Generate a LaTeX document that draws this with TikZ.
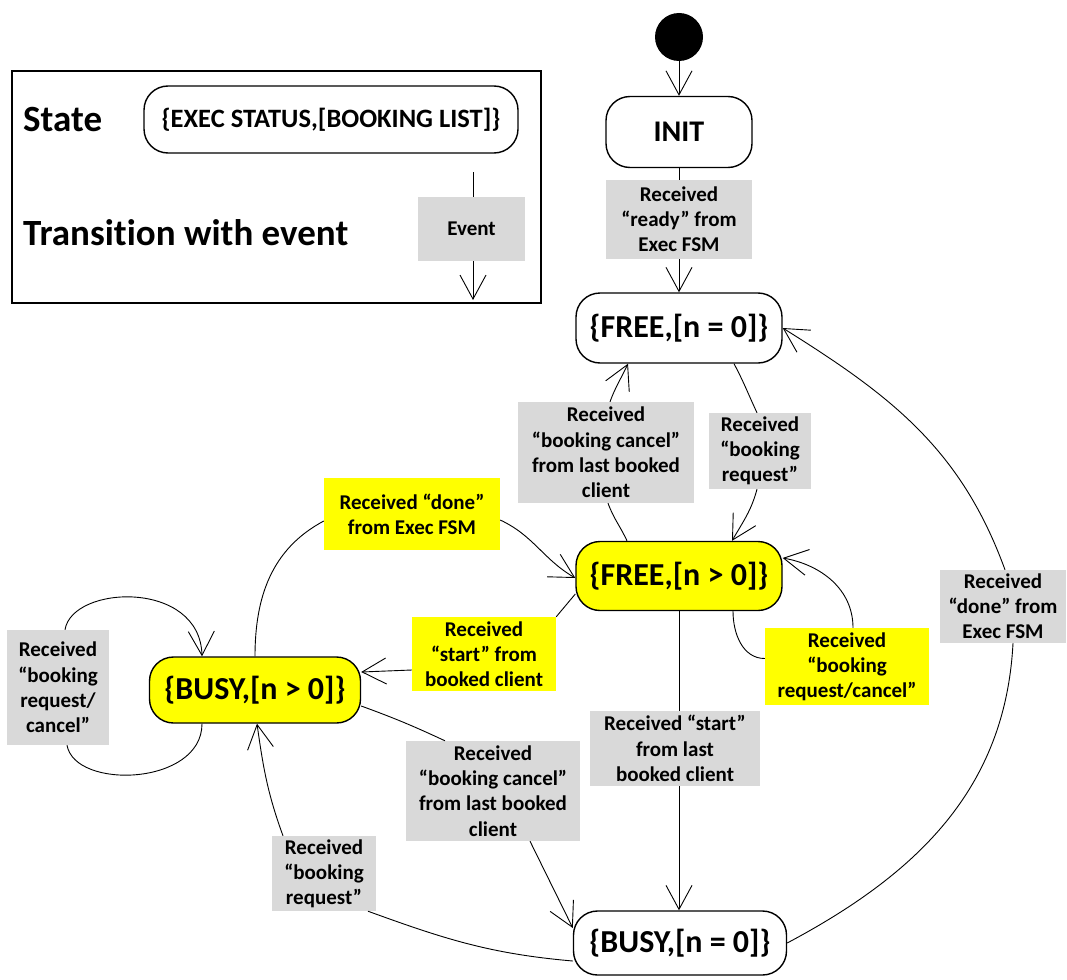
\documentclass[tikz,border=0pt]{standalone}
\usepackage{fontspec}
\setmainfont{Carlito}[Ligatures={NoCommon}]
\usetikzlibrary{arrows.meta,calc}
\definecolor{lgray}{RGB}{217,217,217}
\definecolor{yel}{RGB}{255,255,0}
\tikzset{
 st/.style={draw, line width=1.4pt, rounded corners=24pt, font=\fontsize{32}{38}\selectfont\bfseries, inner sep=0pt},
 lbl/.style={fill=lgray, font=\fontsize{21}{25.2}\selectfont\bfseries, align=center, inner sep=0pt},
 ylbl/.style={lbl, fill=yel},
 ln/.style={line width=0.9pt},
 tr/.style={line width=0.9pt, -{Straight Barb[length=24pt,width=26pt,line width=0.9pt]}},
 big/.style={font=\fontsize{37}{41}\selectfont\bfseries, inner sep=0pt, anchor=west},
}
\begin{document}
\begin{tikzpicture}[x=1pt,y=1pt]
\useasboundingbox (0,0) rectangle (1067,-979);
% legend
\node[draw, line width=1.2pt, minimum width=529pt, minimum height=232pt, inner sep=0pt] (legend) at (276.5,-187) {};
\node[big] (lstate) at (23,-120) {State};
\node[big] (ltrans) at (23,-233) {Transition with event};
\node[st, minimum width=374pt, minimum height=67pt, font=\fontsize{26.5}{30}\selectfont\bfseries] (lst) at (331,-119.5) {\{EXEC STATUS,[BOOKING LIST]\}};
\node[lbl, minimum width=107pt, minimum height=64pt] (levent) at (471.5,-229) {Event};
\coordinate (la) at (473,-172);
\coordinate (lb) at (473,-300);
\draw[ln] (la) -- (la |- levent.north);
\draw[tr] (la |- levent.south) -- (lb);
% states
\node[circle, fill=black, minimum size=48pt, inner sep=0pt] (start) at (679,-37) {};
\node[st, minimum width=146pt, minimum height=71pt, font=\fontsize{30}{36}\selectfont\bfseries] (init) at (679,-132) {INIT};
\node[st, minimum width=206pt, minimum height=70pt] (free0) at (679,-328) {\{FREE,[n = 0]\}};
\node[st, fill=yel, minimum width=206pt, minimum height=69pt] (freep) at (679,-576) {\{FREE,[n > 0]\}};
\node[st, fill=yel, minimum width=211pt, minimum height=66pt] (busyp) at (255,-690) {\{BUSY,[n > 0]\}};
\node[st, minimum width=213pt, minimum height=64pt] (busy0) at (680,-943) {\{BUSY,[n = 0]\}};
% labels
\node[lbl, minimum width=146pt, minimum height=79pt] (lready) at (679,-219.5) {Received\\“ready” from\\Exec FSM};
\node[lbl, minimum width=176pt, minimum height=101pt] (lcan1) at (606,-452.5) {Received\\“booking cancel”\\from last booked\\client};
\node[lbl, minimum width=102pt, minimum height=76pt] (lreq1) at (760,-451) {Received\\“booking\\request”};
\node[ylbl, minimum width=176pt, minimum height=72pt] (ldone1) at (412,-514) {Received “done”\\from Exec FSM};
\node[ylbl, minimum width=144pt, minimum height=74pt] (lstart1) at (484,-654) {Received\\“start” from\\booked client};
\node[ylbl, minimum width=164pt, minimum height=77pt] (lreqc) at (847,-666.5) {Received\\“booking\\request/cancel”};
\node[lbl, minimum width=126pt, minimum height=73pt] (ldone2) at (1003,-606.5) {Received\\“done” from\\Exec FSM};
\node[lbl, minimum width=170pt, minimum height=75pt] (lstart2) at (675,-748.5) {Received “start”\\from last\\booked client};
\node[lbl, minimum width=174pt, minimum height=100pt] (lcan2) at (493,-791) {Received\\“booking cancel”\\from last booked\\client};
\node[lbl, minimum width=104pt, minimum height=75pt] (lreq2) at (324,-873.5) {Received\\“booking\\request”};
\node[lbl, minimum width=102pt, minimum height=115pt] (lloop) at (58,-687.5) {Received\\“booking\\request/\\cancel”};
% transitions
\draw[tr] (start) -- (init);
\draw[ln] (init) -- (lready);
\draw[tr] (lready) -- (free0);
% free0 -> freep
\draw[ln] ([xshift=55pt]free0.south) to[out=-62,in=115] ([xshift=-3pt]lreq1.north);
\draw[tr] ([xshift=-3pt]lreq1.south) to[out=-105,in=60] ([xshift=53pt]freep.north);
% freep -> free0
\draw[ln] ([xshift=-52pt]freep.north) to[out=115,in=-70] ([xshift=2pt]lcan1.south);
\draw[tr] ([xshift=4pt]lcan1.north) to[out=70,in=-115] ([xshift=-51pt]free0.south);
% busyp -> freep (done)
\draw[ln] (busyp.north) to[out=90,in=-152] ([yshift=-7pt]ldone1.west);
\draw[tr] ([yshift=-6pt]ldone1.east) to[out=-25,in=150] ([yshift=-2pt]freep.west);
% freep -> busyp (start)
\draw[ln] ([yshift=-18pt]freep.west) -- (lstart1.north east);
\draw[tr] ([yshift=-16pt]lstart1.west) -- ([yshift=18pt]busyp.east);
% freep self loop
\draw[ln] ([xshift=54pt]freep.south) to[out=-90,in=180] ([yshift=8pt]lreqc.west);
\draw[tr] ([xshift=6pt]lreqc.north) to[out=90,in=-10] ([yshift=18pt]freep.east);
% busyp self loop
\draw[ln] ([xshift=-53pt]busyp.south) .. controls +(0,-62) and +(8,-45) .. ([xshift=9pt]lloop.south);
\draw[tr] ([xshift=7pt]lloop.north) .. controls +(7,45) and +(-2,77) .. ([xshift=-53pt]busyp.north);
% freep -> busy0
\draw[ln] (freep.south) -- (freep.south |- lstart2.north);
\draw[tr] (freep.south |- lstart2.south) -- (freep.south |- busy0.north);
% busyp -> busy0
\draw[ln] ([yshift=-16pt]busyp.east) to[out=-20,in=155] ([xshift=-48pt]lcan2.north);
\draw[tr] ([xshift=37pt]lcan2.south) -- ([yshift=15pt]busy0.west);
% busy0 -> busyp
\draw[ln] ([yshift=-18pt]busy0.west) to[out=175,in=-20] ([xshift=44pt]lreq2.south);
\draw[tr] ([xshift=-41pt]lreq2.north) to[out=110,in=-82] ([xshift=2pt]busyp.south);
% busy0 -> free0
\draw[ln] (busy0.east) to[out=28,in=-93] ([xshift=10pt]ldone2.south);
\draw[tr] ([xshift=2pt]ldone2.north) to[out=110,in=-32] (free0.east);
\end{tikzpicture}
\end{document}
